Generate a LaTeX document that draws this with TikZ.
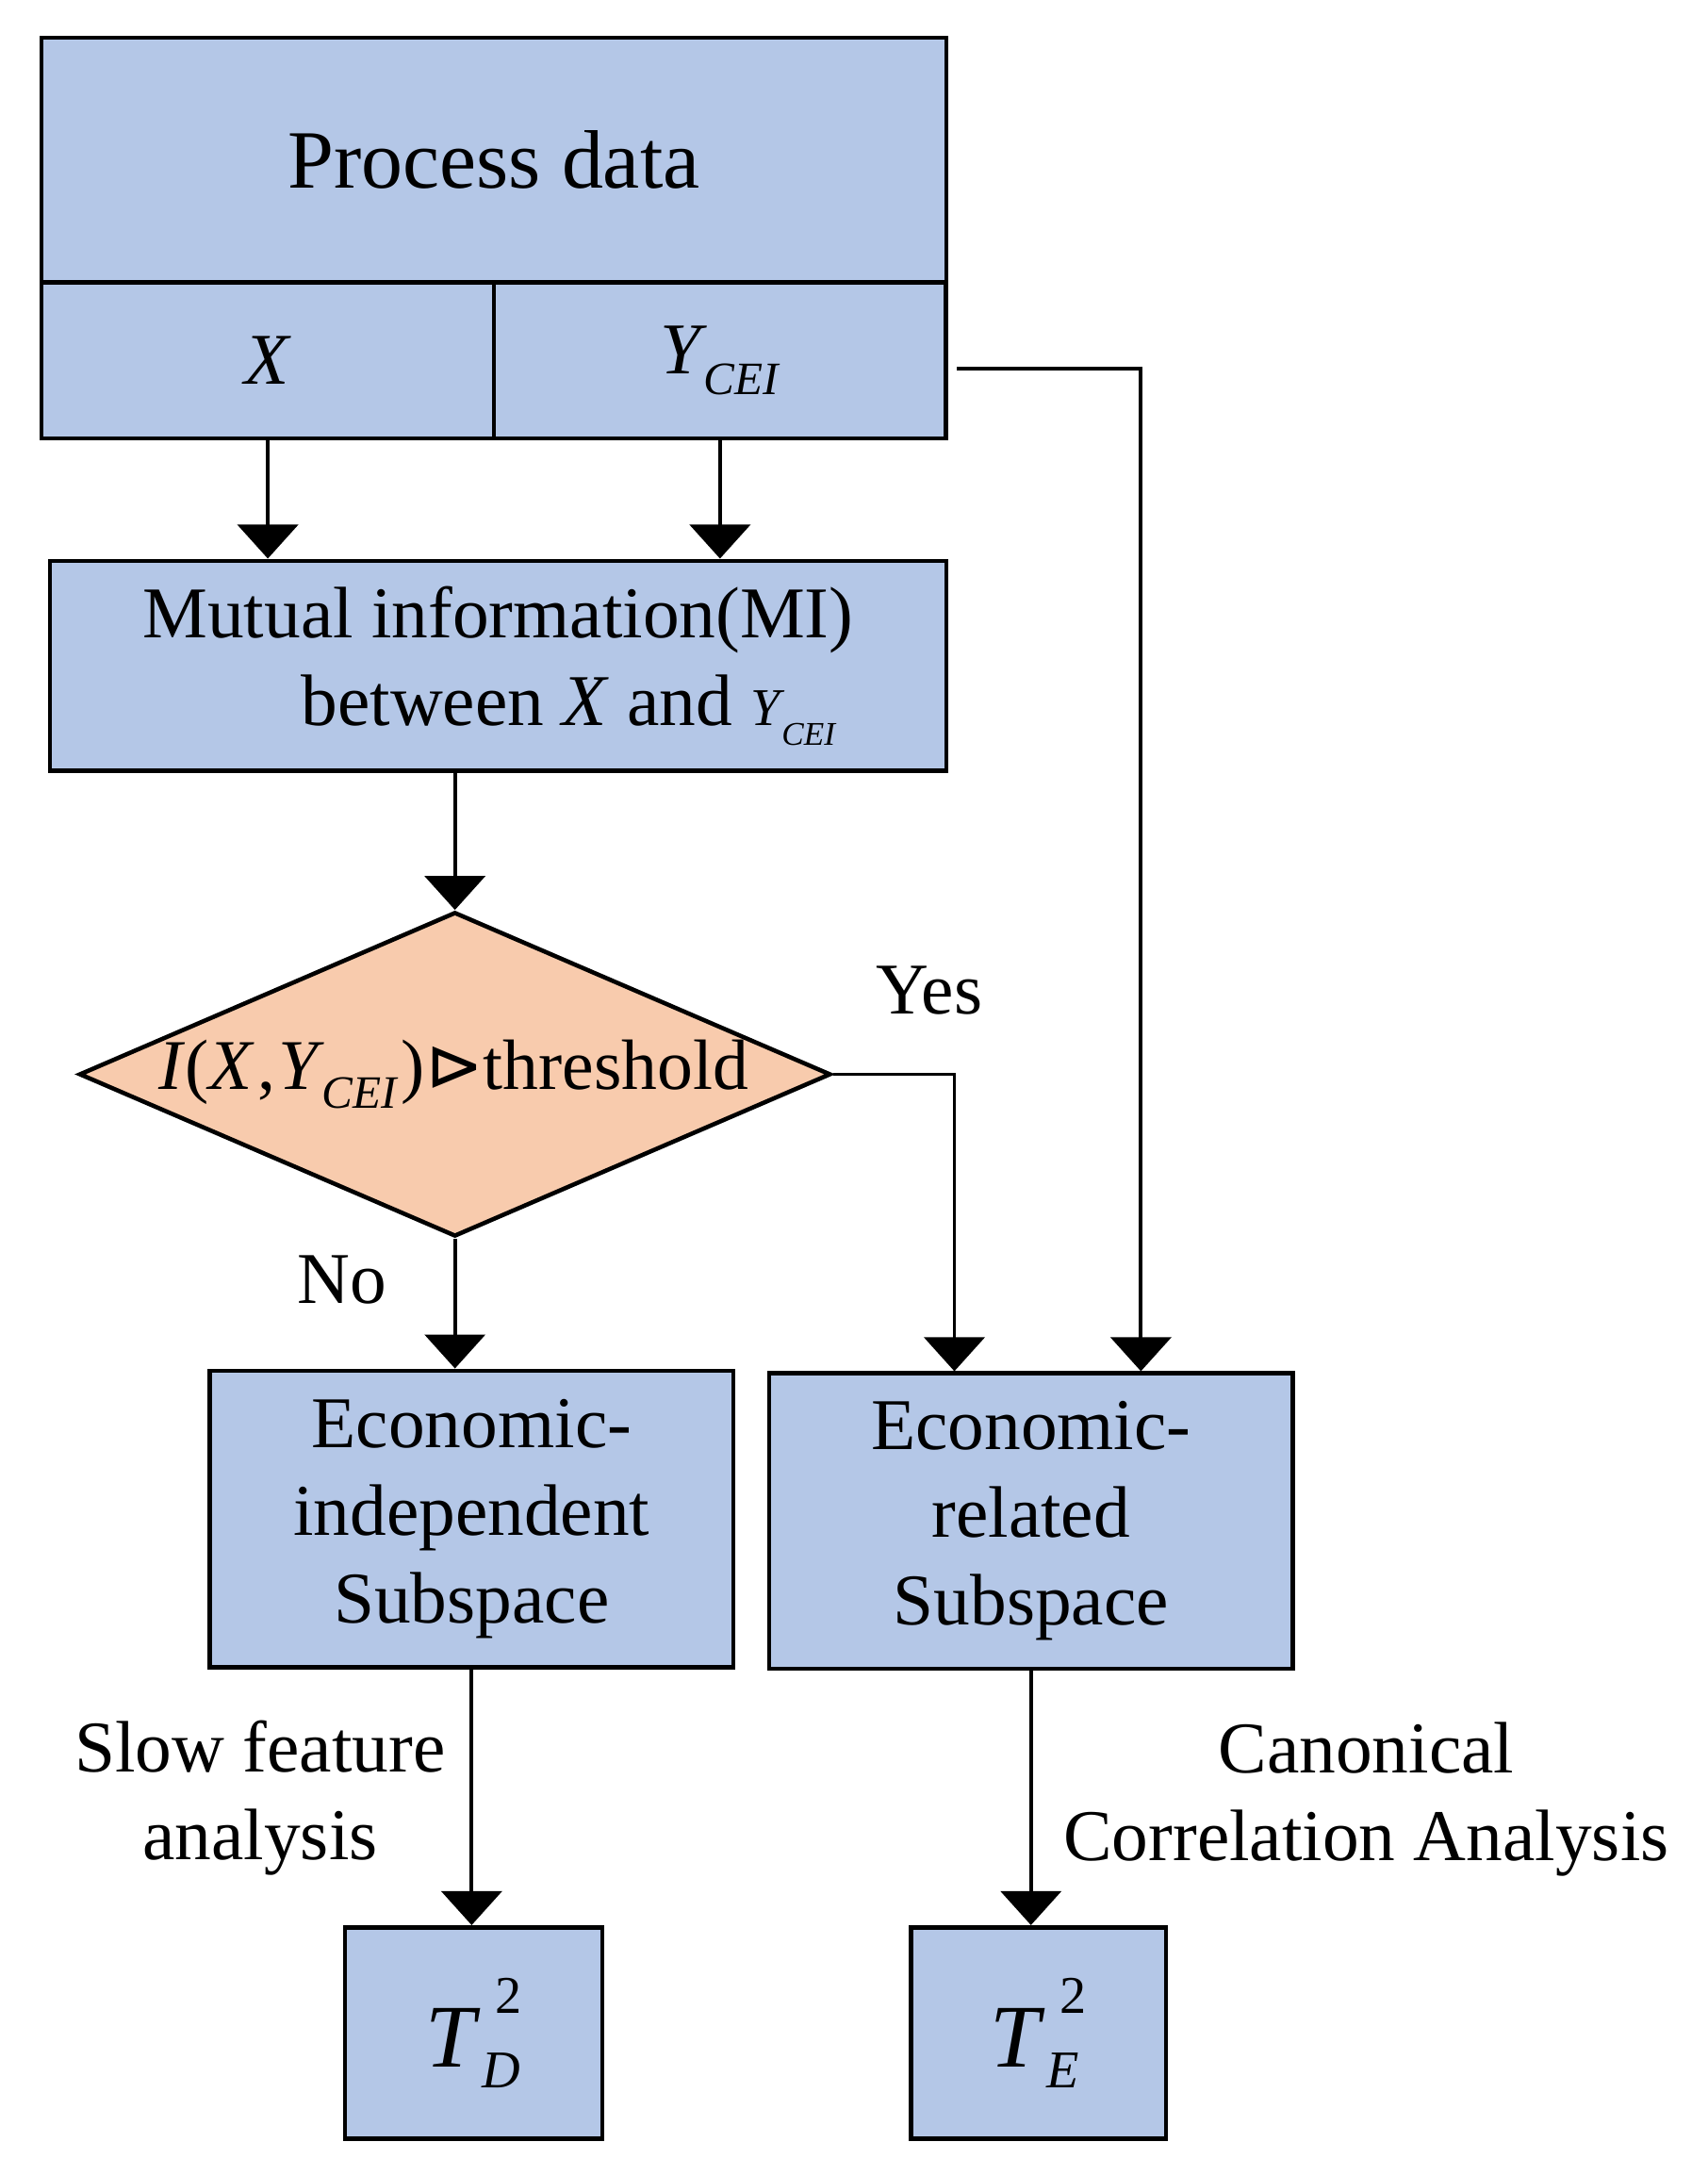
\documentclass[tikz,border=0pt]{standalone}
\usepackage{fontspec}
\setmainfont{Liberation Serif}
\newfontfamily\symfont{DejaVu Sans}
\usetikzlibrary{arrows.meta}
\usetikzlibrary{positioning}
\usetikzlibrary{shapes.geometric}
\definecolor{mblue}{RGB}{180, 199, 231}
\definecolor{morange}{RGB}{248, 203, 173}
\tikzset{box/.style = {draw, fill = mblue, line width = 1.3pt, inner sep = 0,
    font = \fontsize{22}{26.5}\selectfont, align = center}}
\tikzset{decision/.style = {draw, fill = morange, diamond, line width = 1.3pt,
    inner sep = 0, minimum width = 7.97cm, minimum height = 3.44cm}}
\tikzset{arr/.style = {-{Triangle[width = 0.64cm, length = 0.36cm]}, line width = 1.1pt}}
\tikzset{txt/.style = {font = \fontsize{22}{26.5}\selectfont, align = center}}
\newcommand{\sub}[2]{\raisebox{-0.6ex}{\fontsize{#1}{#1}\selectfont\textit{#2}}}
\newcommand{\tsq}[1]{\textit{T}\kern0.5pt\raisebox{-0.5ex}{\makebox[0pt][l]{\fontsize{16}{16}\selectfont\textit{#1}}}\raisebox{1.3ex}{\kern4pt\fontsize{16}{16}\selectfont 2}}

\begin{document}
\begin{tikzpicture}[x = 0.01476cm, y = -0.01476cm]
    \useasboundingbox (0, 0) rectangle (1227, 1563);

    % process data
    \node [box, minimum width = 9.594cm, minimum height = 2.598cm,
        font = \fontsize{25}{30}\selectfont] (proc) at (355, 115) {Process data};
    \node [box, minimum width = 4.797cm, minimum height = 1.653cm] (datX) at (192.5, 259) {\textit{X}};
    \node [box, minimum width = 4.797cm, minimum height = 1.653cm] (datY) at (517.5, 259)
        {\textit{Y}\kern-1pt\sub{14}{CEI}};

    \node [box, minimum width = 9.505cm, minimum height = 2.229cm] (mi) at (358, 478.5)
        {Mutual information(MI)\\ \hspace*{1.5cm}between \textit{X} and
        {\fontsize{16}{16}\selectfont\textit{Y}}\kern-1pt\sub{10}{CEI}};

    % decision
    \node [decision] (test) at (327, 772) {};
    \node [txt, font = \fontsize{21.5}{26}\selectfont] (testtxt) at (326, 772)
        {\textit{I}(\textit{X}\kern1pt,\kern1pt\textit{Y}\kern-1pt\sub{14}{CEI}\kern1pt){\symfont\fontsize{21}{21}\selectfont ⊳}threshold};
    \node [txt] (yes) at (668, 712) {Yes};
    \node [txt] (no) at (246, 920) {No};

    % subspaces
    \node [box, minimum width = 5.55cm, minimum height = 3.144cm] (sub1) at (339, 1091.5)
        {Economic-\\independent\\Subspace};
    \node [box, minimum width = 5.55cm, minimum height = 3.13cm] (sub2) at (741, 1093)
        {Economic-\\related\\Subspace};

    % statistics
    \node [box, minimum width = 2.731cm, minimum height = 2.244cm,
        font = \fontsize{27}{30}\selectfont] (td) at (340.5, 1461) {\tsq{D}};
    \node [box, minimum width = 2.701cm, minimum height = 2.244cm,
        font = \fontsize{27}{30}\selectfont] (te) at (746.5, 1461) {\tsq{E}};

    \node [txt] (sfa) at (187, 1292) {Slow feature\\analysis};
    \node [txt] (cca) at (982, 1293) {Canonical\\Correlation Analysis};

    % connectors
    \coordinate (yout) at ([xshift = 0.09cm, yshift = -0.09cm] datY.east);
    \draw [arr] (datX.south) -- (datX.south |- mi.north);
    \draw [arr] (datY.south) -- (datY.south |- mi.north);
    \draw [arr] (test.north |- mi.south) -- (test.north);
    \draw [arr] (test.south) -- (test.south |- sub1.north);
    \draw [arr] (test.east) -| ([xshift = -0.812cm] sub2.north);
    \draw [arr] (yout) -| ([xshift = 1.166cm] sub2.north);
    \draw [arr] (sub1.south) -- (sub1.south |- td.north);
    \draw [arr] (sub2.south) -- (sub2.south |- te.north);
\end{tikzpicture}
\end{document}
